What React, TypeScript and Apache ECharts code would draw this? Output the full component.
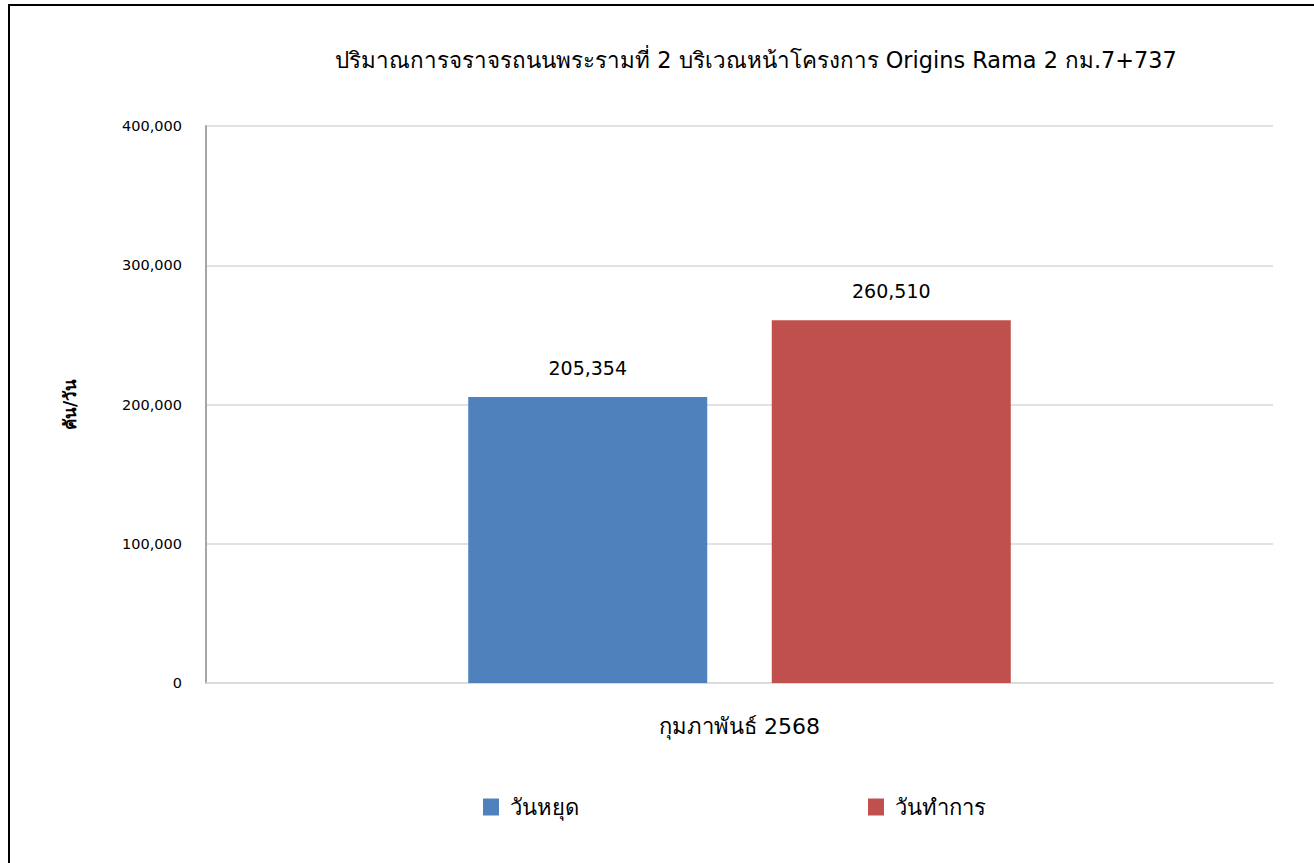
import React, { useEffect, useRef } from "react";
import * as echarts from "echarts";

const categories = ["กุมภาพันธ์ 2568"];
const seriesNames = ["วันหยุด", "วันทำการ"];
const holidayValues = [205354];
const workdayValues = [260510];
const colors = ["#4f81bd", "#c0504d"];
const titleText = "ปริมาณการจราจรถนนพระรามที่ 2 บริเวณหน้าโครงการ Origins Rama 2 กม.7+737";
const yAxisName = "คัน/วัน";

const FONT = "'DejaVu Sans', 'Noto Sans', sans-serif";

export default function App() {
  const ref = useRef<HTMLDivElement>(null);
  useEffect(() => {
    document.body.style.margin = "0";
    if (!ref.current) return;
    const chart = echarts.init(ref.current, undefined, { renderer: "svg" });
    const fmt = (v: number) => v.toLocaleString("en-US");
    const labelStyle = {
      show: true,
      position: "top",
      distance: 20,
      fontFamily: FONT,
      fontSize: 19,
      fontWeight: "normal",
      color: "#000",
      formatter: (p: any) => fmt(p.value),
    };
    chart.setOption({
      animation: false,
      backgroundColor: "#ffffff",
      textStyle: { fontFamily: FONT },
      title: {
        text: titleText,
        left: 751,
        textAlign: "center",
        top: 44,
        textStyle: { fontFamily: FONT, fontSize: 22.4, fontWeight: "normal", color: "#000" },
      },
      graphic: [
        {
          type: "rect",
          shape: { x: 9, y: 5, width: 1400, height: 1000 },
          style: { fill: "none", stroke: "#000", lineWidth: 2 },
          silent: true,
        },
      ],
      legend: [
        {
          data: [seriesNames[0]],
          left: 478,
          top: 791,
          itemWidth: 16,
          itemHeight: 17,
          icon: "rect",
          textStyle: { fontFamily: FONT, fontSize: 22, fontWeight: "normal", color: "#000", padding: [0, 0, 0, 6] },
        },
        {
          data: [seriesNames[1]],
          left: 863,
          top: 791,
          itemWidth: 16,
          itemHeight: 17,
          icon: "rect",
          textStyle: { fontFamily: FONT, fontSize: 22, fontWeight: "normal", color: "#000", padding: [0, 0, 0, 6] },
        },
      ],
      grid: { left: 206, right: 41, top: 126, bottom: 180, containLabel: false },
      xAxis: {
        type: "category",
        data: categories,
        axisLine: { show: true, lineStyle: { color: "#d9d9d9", width: 1.5 } },
        axisTick: { show: false },
        axisLabel: {
          margin: 32,
          fontFamily: FONT,
          fontSize: 22,
          fontWeight: "normal",
          color: "#000",
        },
      },
      yAxis: {
        type: "value",
        min: 0,
        max: 400000,
        interval: 100000,
        name: yAxisName,
        nameLocation: "middle",
        nameGap: 128,
        nameRotate: 90,
        nameTextStyle: { fontFamily: FONT, fontSize: 17, fontWeight: "bold", color: "#000" },
        axisLine: { show: true, lineStyle: { color: "#a6a6a6", width: 2 } },
        axisTick: { show: false },
        splitLine: { lineStyle: { color: "#d9d9d9", width: 1.5 } },
        axisLabel: {
          margin: 24,
          fontFamily: FONT,
          fontSize: 14.5,
          color: "#000",
          formatter: (v: number) => fmt(v),
        },
      },
      series: [
        {
          name: seriesNames[0],
          type: "bar",
          data: holidayValues,
          barWidth: 239,
          barGap: "27%",
          itemStyle: { color: colors[0] },
          label: labelStyle,
        },
        {
          name: seriesNames[1],
          type: "bar",
          data: workdayValues,
          barWidth: 239,
          barGap: "27%",
          itemStyle: { color: colors[1] },
          label: labelStyle,
        },
      ],
    });
    return () => chart.dispose();
  }, []);
  return <div ref={ref} style={{ width: 1314, height: 863 }} />;
}
